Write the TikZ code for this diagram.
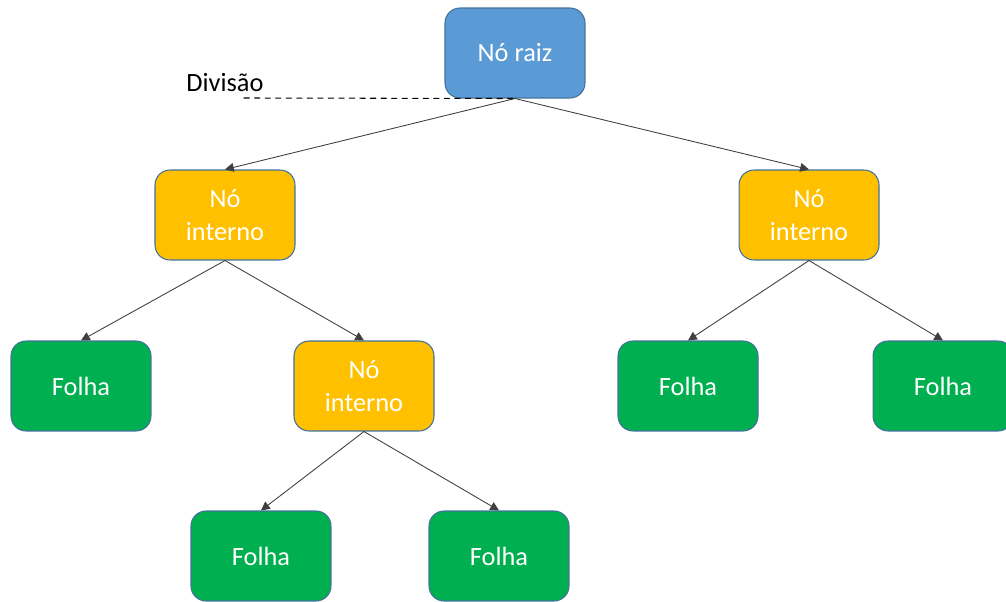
\documentclass[tikz,border=0pt]{standalone}
\usepackage{fontspec}
\setmainfont{Carlito}
\usetikzlibrary{arrows.meta}
\definecolor{raiz}{HTML}{5B9BD5}
\definecolor{interno}{HTML}{FFC000}
\definecolor{folha}{HTML}{00B050}
\definecolor{borda}{HTML}{41719C}
\begin{document}
\begin{tikzpicture}[x=0.02cm, y=-0.02cm, font=\fontsize{15}{18.5}\selectfont, line join=round, line cap=round, >={Triangle[length=5pt,width=5pt]},
	caixa/.style={draw=borda, line width=0.6pt, rounded corners=0.3cm, minimum width=2.8cm, minimum height=1.8cm, text=white, align=center, inner sep=0pt},
	noraiz/.style={caixa, fill=raiz},
	nointerno/.style={caixa, fill=interno},
	nofolha/.style={caixa, fill=folha},
	ramo/.style={->, draw=black!75, line width=0.5pt}]
				\useasboundingbox (0,0) rectangle (1006,601);
				\node[noraiz] (r) at (515,53) {Nó raiz};
				\node[nointerno] (a) at (225,215) {Nó\\interno};
				\node[nointerno] (b) at (809,215) {Nó\\interno};
				\node[nointerno] (c) at (364,386) {Nó\\interno};
				\node[nofolha] (f1) at (81,386) {Folha};
				\node[nofolha] (f2) at (688,386) {Folha};
				\node[nofolha] (f3) at (943,386) {Folha};
				\node[nofolha] (f4) at (261,556) {Folha};
				\node[nofolha] (f5) at (499,556) {Folha};
				\foreach \p/\q in {r/a,r/b,a/f1,a/c,b/f2,b/f3,c/f4,c/f5}\draw[ramo] (\p.south)--(\q.north);
				\node (div) at (225,83) {Divisão};
				\coordinate (d) at (244,98);
				\draw[dashed, line width=0.6pt] (d)--(r.south);
		\end{tikzpicture}
\end{document}
